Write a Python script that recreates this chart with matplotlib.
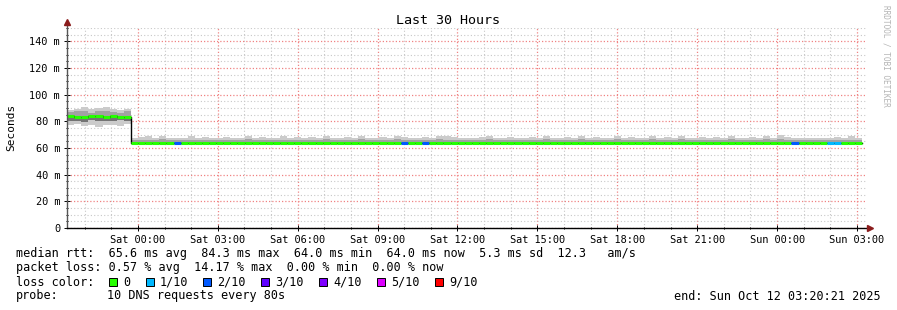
import matplotlib
matplotlib.use("Agg")
import matplotlib.pyplot as plt
import matplotlib.dates as mdates
import matplotlib.patches as mpatches
from matplotlib.ticker import MultipleLocator, FuncFormatter
from datetime import datetime, timedelta

# ---- data (16 min consolidated steps, values in ms) ----
start = datetime(2025, 10, 10, 21, 20, 21)
end = datetime(2025, 10, 12, 3, 20, 21)
step_s = 960

median = [84.0, 83.4, 83.3, 84.1, 84.3, 83.5, 84.2, 83.6, 83.4,
          64.0, 64.0, 64.0, 64.0, 64.0, 64.0, 64.0, 64.0, 64.0, 64.0, 64.0, 64.0,
          64.0, 64.0, 64.0, 64.0, 64.0, 64.0, 64.0, 64.0, 64.0, 64.0, 64.0, 64.0,
          64.0, 64.0, 64.0, 64.0, 64.0, 64.0, 64.0, 64.0, 64.0, 64.0, 64.0, 64.0,
          64.0, 64.0, 64.0, 64.0, 64.0, 64.0, 64.0, 64.0, 64.0, 64.0, 64.0, 64.0,
          64.0, 64.0, 64.0, 64.0, 64.0, 64.0, 64.0, 64.0, 64.0, 64.0, 64.0, 64.0,
          64.0, 64.0, 64.0, 64.0, 64.0, 64.0, 64.0, 64.0, 64.0, 64.0, 64.0, 64.0,
          64.0, 64.0, 64.0, 64.0, 64.0, 64.0, 64.0, 64.0, 64.0, 64.0, 64.0, 64.0,
          64.0, 64.0, 64.0, 64.0, 64.0, 64.0, 64.0, 64.0, 64.0, 64.0, 64.0, 64.0,
          64.0, 64.0, 64.0, 64.0, 64.0, 64.0, 64.0]

outer_hi = [88.5, 89.5, 90.5, 89.0, 90.0, 90.5, 89.0, 88.5, 89.0,
            67.7, 68.2, 68.7, 67.7, 68.7, 67.7, 67.2, 67.7, 68.7, 67.7, 68.2, 67.7,
            67.2, 68.2, 67.7, 67.2, 68.7, 67.7, 68.2, 67.2, 67.7, 68.7, 67.7, 68.2,
            67.7, 68.2, 67.2, 68.7, 67.7, 67.2, 68.2, 67.7, 68.7, 67.7, 67.2, 68.2,
            67.7, 68.7, 68.2, 67.7, 67.2, 68.2, 67.7, 68.7, 68.7, 68.2, 67.7, 67.2,
            67.7, 68.2, 68.7, 67.7, 67.2, 68.2, 67.7, 67.2, 68.2, 67.7, 68.7, 67.7,
            67.2, 68.2, 67.7, 68.7, 67.7, 68.2, 67.2, 67.7, 68.7, 67.7, 68.2, 67.2,
            67.7, 68.7, 67.7, 68.2, 67.2, 68.7, 67.7, 67.2, 68.2, 67.7, 68.2, 67.7,
            68.7, 67.7, 67.2, 68.2, 67.7, 68.7, 67.2, 69.7, 68.2, 67.2, 67.7, 67.2,
            67.7, 67.7, 67.2, 68.2, 67.7, 68.7, 67.2]

inner_hi = [87.0, 87.5, 88.0, 86.5, 87.5, 88.0, 87.0, 86.5, 87.5,
            65.8, 66.3, 66.3, 65.8, 66.8, 65.8, 65.8, 66.3, 66.3, 65.8, 66.3, 65.8,
            65.8, 66.3, 65.8, 65.8, 66.8, 66.3, 66.3, 65.8, 65.8, 66.3, 65.8, 66.3,
            65.8, 66.3, 65.8, 66.8, 66.3, 65.8, 66.3, 65.8, 66.8, 66.3, 65.8, 66.3,
            65.8, 66.8, 66.3, 65.8, 65.8, 66.3, 65.8, 66.8, 66.3, 66.3, 65.8, 65.8,
            65.8, 66.3, 66.8, 65.8, 65.8, 66.3, 65.8, 65.8, 66.3, 65.8, 66.8, 65.8,
            65.8, 66.3, 65.8, 66.8, 65.8, 66.3, 65.8, 65.8, 66.8, 65.8, 66.3, 65.8,
            65.8, 66.8, 65.8, 66.3, 65.8, 66.8, 65.8, 65.8, 66.3, 65.8, 66.3, 65.8,
            66.8, 65.8, 65.8, 66.3, 65.8, 66.8, 65.8, 66.8, 66.3, 65.8, 65.8, 65.8,
            65.8, 65.8, 65.8, 66.3, 65.8, 66.3, 65.8]

inner_lo = [80.0, 80.5, 79.5, 81.0, 80.0, 80.5, 80.0, 81.0, 80.5,
            64.0, 64.0, 64.0, 64.0, 64.0, 64.0, 64.0, 64.0, 64.0, 64.0, 64.0, 64.0,
            64.0, 64.0, 64.0, 64.0, 64.0, 64.0, 64.0, 64.0, 64.0, 64.0, 64.0, 64.0,
            64.0, 64.0, 64.0, 64.0, 64.0, 64.0, 64.0, 64.0, 64.0, 64.0, 64.0, 64.0,
            64.0, 64.0, 64.0, 64.0, 64.0, 64.0, 64.0, 64.0, 64.0, 64.0, 64.0, 64.0,
            64.0, 64.0, 64.0, 64.0, 64.0, 64.0, 64.0, 64.0, 64.0, 64.0, 64.0, 64.0,
            64.0, 64.0, 64.0, 64.0, 64.0, 64.0, 64.0, 64.0, 64.0, 64.0, 64.0, 64.0,
            64.0, 64.0, 64.0, 64.0, 64.0, 64.0, 64.0, 64.0, 64.0, 64.0, 64.0, 64.0,
            64.0, 64.0, 64.0, 64.0, 64.0, 64.0, 64.0, 64.0, 64.0, 64.0, 64.0, 64.0,
            64.0, 64.0, 64.0, 64.0, 64.0, 64.0, 64.0]

outer_lo = [77.0, 78.0, 76.5, 77.5, 76.0, 77.0, 77.5, 76.5, 78.0,
            63.6, 63.6, 63.6, 63.6, 63.6, 63.6, 63.6, 63.6, 63.6, 63.6, 63.6, 63.6,
            63.6, 63.6, 63.6, 63.6, 63.6, 63.6, 63.6, 63.6, 63.6, 63.6, 63.6, 63.6,
            63.6, 63.6, 63.6, 63.6, 63.6, 63.6, 63.6, 63.6, 63.6, 63.6, 63.6, 63.6,
            63.6, 63.6, 63.6, 63.6, 63.6, 63.6, 63.6, 63.6, 63.6, 63.6, 63.6, 63.6,
            63.6, 63.6, 63.6, 63.6, 63.6, 63.6, 63.6, 63.6, 63.6, 63.6, 63.6, 63.6,
            63.6, 63.6, 63.6, 63.6, 63.6, 63.6, 63.6, 63.6, 63.6, 63.6, 63.6, 63.6,
            63.6, 63.6, 63.6, 63.6, 63.6, 63.6, 63.6, 63.6, 63.6, 63.6, 63.6, 63.6,
            63.6, 63.6, 63.6, 63.6, 63.6, 63.6, 63.6, 63.6, 63.6, 63.6, 63.6, 63.6,
            63.6, 63.6, 63.6, 63.6, 63.6, 63.6, 63.6]

# lost pings out of 10 per step
loss = [0, 0, 0, 0, 0, 0, 0, 0, 0, 0, 0, 0, 0, 0, 0, 2,
        0, 0, 0, 0, 0, 0, 0, 0, 0, 0, 0, 0, 0, 0, 0, 0,
        0, 0, 0, 0, 0, 0, 0, 0, 0, 0, 0, 0, 0, 0, 0, 2,
        0, 0, 2, 0, 0, 0, 0, 0, 0, 0, 0, 0, 0, 0, 0, 0,
        0, 0, 0, 0, 0, 0, 0, 0, 0, 0, 0, 0, 0, 0, 0, 0,
        0, 0, 0, 0, 0, 0, 0, 0, 0, 0, 0, 0, 0, 0, 0, 0,
        0, 0, 0, 0, 0, 0, 2, 0, 0, 0, 0, 1, 1, 0, 0, 0]

loss_labels = ["0", "1/10", "2/10", "3/10", "4/10", "5/10", "9/10"]
loss_colors = ["#26ff00", "#00b8ff", "#0059ff", "#5e00ff", "#7e00ff", "#dd00ff", "#ff0000"]


def loss_color(n):
    if n >= 9:
        return loss_colors[6]
    if n >= 5:
        return loss_colors[5]
    return loss_colors[n]


W, H = 897, 310
MONO = "DejaVu Sans Mono"


def fx(px):
    return px / W


def fy(py):
    return 1 - py / H


fig = plt.figure(figsize=(W / 100, H / 100), dpi=100)
ax = fig.add_axes([fx(67), fy(228), (866 - 67) / W, (228 - 28) / H])

n = len(median)
t = [start + timedelta(seconds=step_s * i) for i in range(n)]
x = mdates.date2num(t)
w = step_s / 86400

# smoke
ax.bar(x, [h - l for h, l in zip(outer_hi, outer_lo)], bottom=outer_lo, width=w,
       align="edge", color="#cbcbcb", linewidth=0, zorder=2)
ax.bar(x, [h - l for h, l in zip(inner_hi, inner_lo)], bottom=inner_lo, width=w,
       align="edge", color="#a2a2a2", linewidth=0, zorder=3)
ax.bar(x, [m - l for m, l in zip(median, inner_lo)], bottom=inner_lo, width=w,
       align="edge", color="#747474", linewidth=0, zorder=4)

# median line (black step, then loss-coloured segments)
xe = list(x) + [x[-1] + w]
ax.step(xe, median + [median[-1]], where="post", color="black", lw=1.0, zorder=5)
ax.hlines(median, x, x + w, colors=[loss_color(v) for v in loss], lw=2.2, zorder=6)

ax.set_xlim(mdates.date2num(start), mdates.date2num(end))
ax.set_ylim(0, 150)

ax.xaxis.set_major_locator(mdates.HourLocator(byhour=range(0, 24, 3)))
ax.xaxis.set_minor_locator(mdates.HourLocator())
ax.xaxis.set_major_formatter(mdates.DateFormatter("%a %H:%M"))
ax.yaxis.set_major_locator(MultipleLocator(20))
ax.yaxis.set_minor_locator(MultipleLocator(5))
ax.yaxis.set_major_formatter(FuncFormatter(lambda v, p: "0" if v == 0 else f"{v:g} m"))

ax.grid(which="minor", color="#c8c8c8", linestyle=(0, (1, 2)), lw=0.8)
ax.grid(which="major", color="#f08282", linestyle=(0, (1, 1.6)), lw=0.9)
ax.set_axisbelow(True)

ax.tick_params(which="both", direction="inout", color="black", width=0.7)
ax.tick_params(which="major", length=4, labelsize=7.4, pad=3)
ax.tick_params(which="minor", length=2)
for lab in ax.get_xticklabels() + ax.get_yticklabels():
    lab.set_family(MONO)

for s in ax.spines.values():
    s.set_visible(False)
ax.plot([0, 0], [0, 1.03], transform=ax.transAxes, color="#555555", lw=1, clip_on=False, zorder=7)
ax.plot([0, 1.005], [0, 0], transform=ax.transAxes, color="black", lw=1, clip_on=False, zorder=7)
ax.plot([0], [1.03], marker="^", ms=4, color="#8b1c1c", transform=ax.transAxes, clip_on=False, zorder=8)
ax.plot([1.005], [0], marker=">", ms=4, color="#8b1c1c", transform=ax.transAxes, clip_on=False, zorder=8)

fig.text(fx(448), fy(20), "Last 30 Hours", family=MONO, fontsize=9.6, ha="center", va="center")
fig.text(fx(11), fy(127), "Seconds", family=MONO, fontsize=8, rotation=90, ha="center", va="center")
fig.text(fx(886), fy(5), "RRDTOOL / TOBI OETIKER", family=MONO, fontsize=5.6, rotation=270,
         color="#b4b4b4", ha="center", va="top")

# legend area
fs = 8.5
fig.text(fx(16), fy(254), "median rtt:  65.6 ms avg  84.3 ms max  64.0 ms min  64.0 ms now  5.3 ms sd  12.3   am/s",
         family=MONO, fontsize=fs, va="center")
fig.text(fx(16), fy(268), "packet loss: 0.57 % avg  14.17 % max  0.00 % min  0.00 % now",
         family=MONO, fontsize=fs, va="center")
fig.text(fx(16), fy(282), "loss color:", family=MONO, fontsize=fs, va="center")
sq_x = [109, 146, 203, 261, 319, 377, 435]
for sx, lab, col in zip(sq_x, loss_labels, loss_colors):
    fig.patches.append(mpatches.Rectangle((fx(sx), fy(286)), 8 / W, 8 / H, facecolor=col,
                                          edgecolor="black", lw=0.7, transform=fig.transFigure))
    fig.text(fx(sx + 14), fy(282), lab, family=MONO, fontsize=fs, va="center")
fig.text(fx(16), fy(296), "probe:", family=MONO, fontsize=fs, va="center")
fig.text(fx(107), fy(296), "10 DNS requests every 80s", family=MONO, fontsize=fs, va="center")
fig.text(fx(881), fy(296), "end: Sun Oct 12 03:20:21 2025", family=MONO, fontsize=fs, va="center", ha="right")

fig.savefig("out.png", dpi=100)
